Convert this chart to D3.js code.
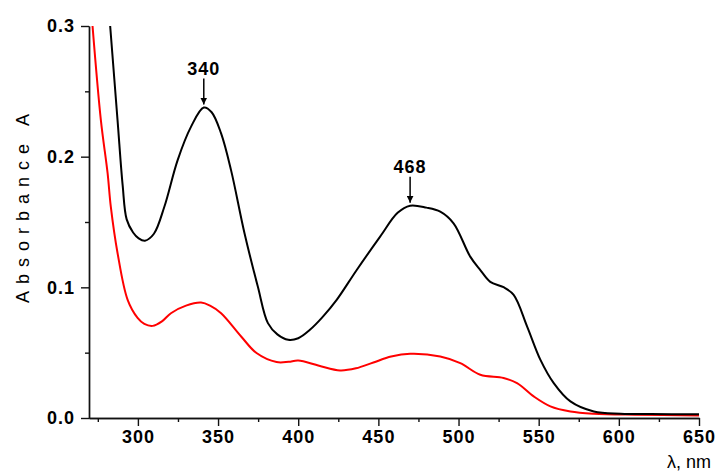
<!DOCTYPE html>
<html>
<head>
<meta charset="utf-8">
<script src="https://cdn.jsdelivr.net/npm/d3@7"></script>
<style>
  body { margin: 0; background: #fff; }
  svg { display: block; font-family: Arial, "Liberation Sans", sans-serif; }
</style>
</head>
<body>
<div id="chart"></div>
<script>
//spectrum 1 (black): wavelength in nm, absorbance
const blackWl = [282.7, 287.3, 290.5, 293, 297, 300.5, 304.4, 310, 316.5, 324.8, 333.1, 341.1, 346, 351.9, 358.1, 366.5, 374.8, 381.1, 387, 393.8, 400, 407.3, 415, 424.0, 436.5, 451.1, 462, 469.8, 480, 488.6, 496.9, 507.3, 513.6, 519.8, 528.1, 534.4, 542.8, 551.1, 559.4, 569.8, 584.4, 601.1, 620, 650];
const blackAbs = [0.300, 0.228, 0.178, 0.152, 0.142, 0.1375, 0.1357, 0.141, 0.1617, 0.1974, 0.2228, 0.2376, 0.234, 0.2178, 0.1897, 0.1414, 0.1006, 0.0726, 0.064, 0.0598, 0.061, 0.0675, 0.077, 0.0904, 0.1133, 0.1388, 0.157, 0.1625, 0.161, 0.1579, 0.149, 0.1235, 0.1132, 0.1042, 0.1001, 0.0942, 0.070, 0.0445, 0.0267, 0.0127, 0.005, 0.0033, 0.003, 0.0029];

//spectrum 2 (red)
const redWl = [271.7, 276.9, 281.1, 283.1, 287.3, 293.6, 299.8, 304, 309.2, 315, 320.6, 330, 339.4, 345, 351.9, 364.4, 374.0, 386.5, 394, 400.0, 413, 426.1, 436, 446.9, 458, 469.8, 488.6, 501.1, 513.6, 528.1, 536.5, 546.9, 557.3, 569.8, 584.4, 610, 650];
const redAbs = [0.300, 0.228, 0.1874, 0.1617, 0.1263, 0.0904, 0.0766, 0.072, 0.0705, 0.074, 0.0802, 0.086, 0.0883, 0.086, 0.0802, 0.0624, 0.0497, 0.0428, 0.043, 0.044, 0.040, 0.0364, 0.038, 0.0425, 0.047, 0.0491, 0.0471, 0.042, 0.0331, 0.0306, 0.0267, 0.0165, 0.0089, 0.005, 0.0033, 0.0025, 0.002];

//peak annotations
const peakLabels = ['340', '468'];
const peakWl = [341.1, 469.8];
const peakAbs = [0.2376, 0.1625];

//axis ticks
const xMajorTicks = [300, 350, 400, 450, 500, 550, 600, 650];
const xMinorTicks = [275, 325, 375, 425, 475, 525, 575, 625];
const yMajorTicks = [0.0, 0.1, 0.2, 0.3];
const yMinorTicks = [0.05, 0.15, 0.25];

const xTitle = 'λ, nm';
const yTitle = 'Absorbance A';

function drawChart() {
    d3.select('#chart').html('');

    const W = 718, H = 472;
    const margin = { top: 26, right: 19, bottom: 54, left: 89 };
    const width = W - margin.left - margin.right;
    const height = H - margin.top - margin.bottom;

    const x = d3.scaleLinear().domain([269.5, 650]).range([0, width]);
    const y = d3.scaleLinear().domain([0, 0.3]).range([height, 0]);

    const svg = d3.select('#chart').append('svg')
        .attr('width', W)
        .attr('height', H);

    const defs = svg.append('defs');
    const g = svg.append('g')
        .attr('transform', `translate(${margin.left},${margin.top})`);

    //clip so curves stop at the top of the frame
    defs.append('clipPath').attr('id', 'plotClip')
      .append('rect').attr('x', 0).attr('y', 0).attr('width', width + 2).attr('height', height);

    //curves
    const line = d3.line()
        .x(d => x(d[0]))
        .y(d => y(d[1]))
        .curve(d3.curveCatmullRom.alpha(0.5));

    const curves = g.append('g').attr('clip-path', 'url(#plotClip)');
    curves.append('path')
        .datum(redWl.map((w, i) => [w, redAbs[i]]))
        .attr('d', line)
        .style('fill', 'none')
        .style('stroke', '#ff0000')
        .style('stroke-width', 2);
    curves.append('path')
        .datum(blackWl.map((w, i) => [w, blackAbs[i]]))
        .attr('d', line)
        .style('fill', 'none')
        .style('stroke', '#000')
        .style('stroke-width', 2);

    //x axis: major ticks with labels, minor ticks in their own group
    const xAxisG = g.append('g').attr('transform', `translate(0,${height})`)
        .call(d3.axisBottom(x).tickValues(xMajorTicks).tickSize(8).tickSizeOuter(0).tickFormat(d3.format('d')));
    g.append('g').attr('transform', `translate(0,${height})`)
        .call(d3.axisBottom(x).tickValues(xMinorTicks).tickSize(4).tickSizeOuter(0).tickFormat(''));

    //y axis
    const yAxisG = g.append('g')
        .call(d3.axisLeft(y).tickValues(yMajorTicks).tickSize(8).tickSizeOuter(0).tickFormat(d3.format('.1f')));
    g.append('g')
        .call(d3.axisLeft(y).tickValues(yMinorTicks).tickSize(4).tickSizeOuter(0).tickFormat(''));

    g.selectAll('.domain').style('stroke', '#111').style('stroke-width', 1.4);
    g.selectAll('.tick line').style('stroke', '#111').style('stroke-width', 1.4);
    g.selectAll('.tick text')
        .style('font-size', '18px')
        .style('font-weight', 'bold')
        .style('letter-spacing', '1px')
        .style('fill', '#000');
    xAxisG.selectAll('.tick text').attr('y', 12);
    yAxisG.selectAll('.tick text').attr('x', -14);

    //axis titles
    svg.append('text')
        .attr('x', 711)
        .attr('y', 468)
        .attr('text-anchor', 'end')
        .style('font-size', '18px')
        .text(xTitle);

    svg.append('text')
        .attr('transform', 'translate(29,205) rotate(-90)')
        .attr('text-anchor', 'middle')
        .style('font-size', '18px')
        .style('letter-spacing', '7px')
        .text(yTitle);

    //peak markers: label with a down arrow to the maximum
    defs.append('marker')
        .attr('id', 'arrowHead')
        .attr('viewBox', '0 0 10 10')
        .attr('refX', 10).attr('refY', 5)
        .attr('markerWidth', 7).attr('markerHeight', 7)
        .attr('markerUnits', 'userSpaceOnUse')
        .attr('orient', 'auto')
      .append('path')
        .attr('d', 'M0,0 L10,5 L0,10 Z')
        .style('fill', '#000');

    peakLabels.forEach(function(lbl, i) {
        const px = x(peakWl[i]);
        const tip = y(peakAbs[i]) - 3;
        g.append('line')
            .attr('x1', px).attr('x2', px)
            .attr('y1', tip - 26).attr('y2', tip)
            .style('stroke', '#000')
            .style('stroke-width', 1.5)
            .attr('marker-end', 'url(#arrowHead)');
        g.append('text')
            .attr('x', px)
            .attr('y', tip - 30)
            .attr('text-anchor', 'middle')
            .style('font-size', '18px')
            .style('font-weight', 'bold')
            .style('letter-spacing', '1px')
            .text(lbl);
    });
}

drawChart();
</script>
</body>
</html>
